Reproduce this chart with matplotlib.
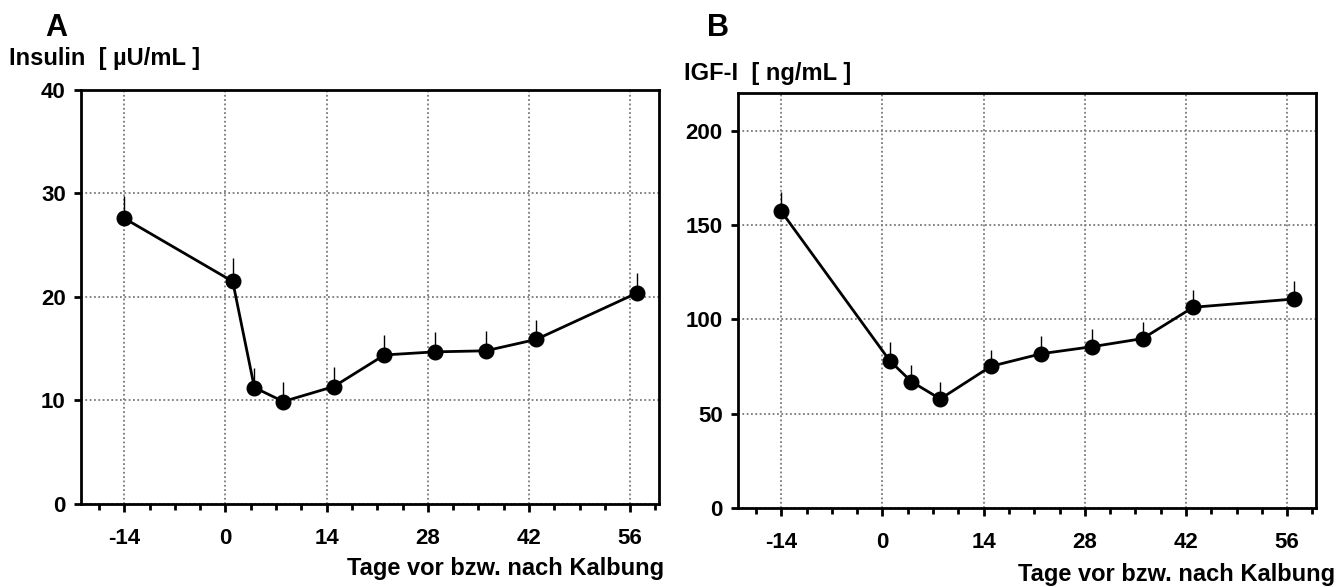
import matplotlib.pyplot as plt
from matplotlib.ticker import MultipleLocator

plt.rcParams["font.family"] = ["Liberation Sans", "DejaVu Sans"]
plt.rcParams["font.weight"] = "bold"
plt.rcParams["axes.unicode_minus"] = False

# sampling days relative to calving
days = [-14, 1, 4, 8, 15, 22, 29, 36, 43, 57]

insulin_mean = [27.6, 21.5, 11.25, 9.9, 11.35, 14.4, 14.7, 14.8, 15.9, 20.4]
insulin_sem = [2.2, 2.3, 1.9, 1.9, 1.9, 1.9, 1.9, 1.9, 1.9, 1.9]

igf_mean = [157.2, 78.1, 67.0, 57.8, 75.1, 81.8, 85.5, 89.8, 106.4, 110.8]
igf_sem = [10.3, 10.1, 9.0, 9.2, 8.8, 9.2, 9.2, 8.8, 9.1, 9.3]

x_ticks = [-14, 0, 14, 28, 42, 56]
insulin_yticks = [0, 10, 20, 30, 40]
igf_yticks = [0, 50, 100, 150, 200]

XLABEL = "Tage vor bzw. nach Kalbung"


def draw_panel(ax, mean, sem, yticks, ylim):
    ax.set_xlim(-20, 60)
    ax.set_ylim(*ylim)
    ax.set_xticks(x_ticks)
    ax.xaxis.set_minor_locator(MultipleLocator(3.5))
    ax.set_yticks(yticks)
    ax.grid(True, which="major", color="#7a7a7a", linestyle=(0, (1, 1.4)),
            linewidth=1.3)
    ax.set_axisbelow(True)
    # upper half of the error bars only
    tops = [m + s for m, s in zip(mean, sem)]
    ax.vlines(days, mean, tops, color="black", linewidth=1.0, zorder=2)
    ax.plot(days, mean, color="black", linewidth=2.0, marker="o",
            markersize=10.5, zorder=3)
    for side in ax.spines.values():
        side.set_linewidth(2.0)
    ax.tick_params(axis="x", which="major", length=6, width=2, pad=11,
                   labelsize=16)
    ax.tick_params(axis="x", which="minor", length=4, width=2)
    ax.tick_params(axis="y", which="major", length=5, width=2, pad=6,
                   labelsize=16)
    for lab in ax.get_xticklabels() + ax.get_yticklabels():
        lab.set_fontweight("bold")


fig = plt.figure(figsize=(13.43, 5.87), dpi=100)
ax_a = fig.add_axes([0.0603, 0.1414, 0.4304, 0.7053])
ax_b = fig.add_axes([0.5495, 0.1346, 0.4304, 0.7070])

draw_panel(ax_a, insulin_mean, insulin_sem, insulin_yticks, (0, 40))
draw_panel(ax_b, igf_mean, igf_sem, igf_yticks, (0, 220))

W, H = 1343, 587


def fig_text(px, py, s, size, **kw):
    fig.text(px / W, 1 - py / H, s, fontsize=size, fontweight="bold", **kw)


fig_text(45, 36, "A", 22, va="baseline", ha="left")
fig_text(9, 65, "Insulin  [ µU/mL ]", 17, va="baseline", ha="left")
fig_text(707, 36, "B", 22, va="baseline", ha="left")
fig_text(684, 80, "IGF-I  [ ng/mL ]", 17, va="baseline", ha="left")
fig_text(664, 575, XLABEL, 17, va="baseline", ha="right")
fig_text(1335, 581, XLABEL, 17, va="baseline", ha="right")

fig.savefig("out.png", dpi=100)
